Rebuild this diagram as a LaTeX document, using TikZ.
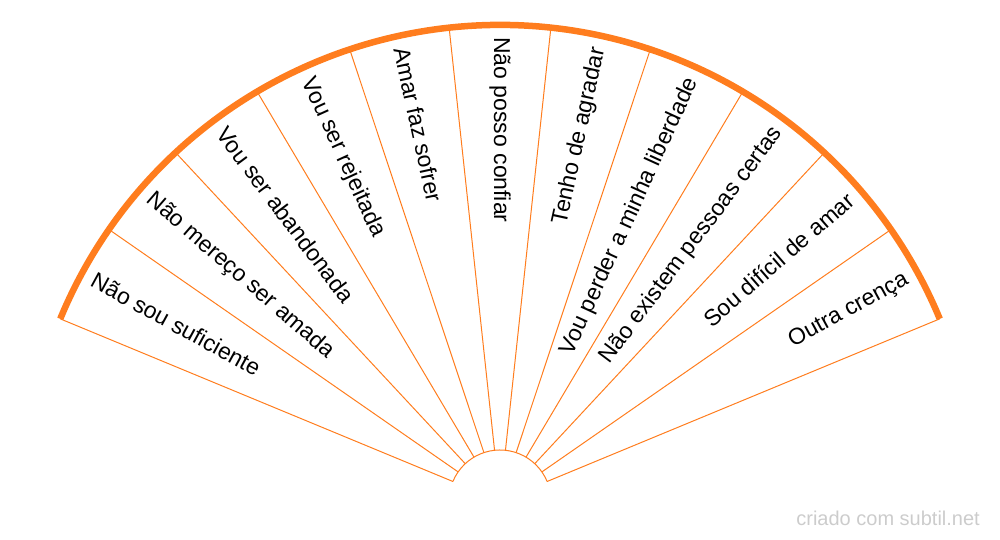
\documentclass[tikz,border=0pt]{standalone}
\usepackage{fontspec}
\setmainfont{Liberation Sans}
\definecolor{fanorange}{RGB}{255,125,30}
\definecolor{wmgrey}{RGB}{204,204,204}
\begin{document}
\begin{tikzpicture}[x=1pt,y=1pt,
  divider/.style={draw=fanorange,line width=1pt},
  rim/.style={draw=fanorange,line width=6.5pt},
  hub/.style={draw=fanorange,line width=1pt},
  lbl/.style={inner sep=0pt,font=\fontsize{23}{23}\selectfont},
  wmark/.style={inner sep=0pt,text=wmgrey,font=\fontsize{20}{20}\selectfont}]
\useasboundingbox (0,0) rectangle (1000,540);
\coordinate (c) at (500,39);
\foreach \k in {0,...,11} {
  \pgfmathsetmacro\a{157.5-\k*135/11}
  \coordinate (in\k) at ([shift={(\a:51)}]c);
  \coordinate (out\k) at ([shift={(\a:476)}]c);
  \draw[divider] (in\k) -- (out\k);
}
\draw[hub] (in0) arc (157.5:22.5:51);
\draw[rim] (out0) arc (157.5:22.5:476);
\foreach \t [count=\i] in {Não sou suficiente,Não mereço ser amada,Vou ser abandonada,Vou ser rejeitada,Amar faz sofrer,Não posso confiar,Tenho de agradar,Vou perder a minha liberdade,Não existem pessoas certas,Sou difícil de amar,Outra crença} {
  \pgfmathsetmacro\a{157.5-(\i-0.5)*135/11}
  \ifdim\a pt<89pt
    \node[lbl,anchor=east,rotate=\a] (l\i) at ([shift={(\a:464)}]c) {\t};
  \else
    \pgfmathsetmacro\r{\a-180}
    \node[lbl,anchor=west,rotate=\r] (l\i) at ([shift={(\a:464)}]c) {\t};
  \fi
}
\node[wmark,anchor=base east] (wm) at (980,14) {criado com subtil.net};
\end{tikzpicture}
\end{document}
